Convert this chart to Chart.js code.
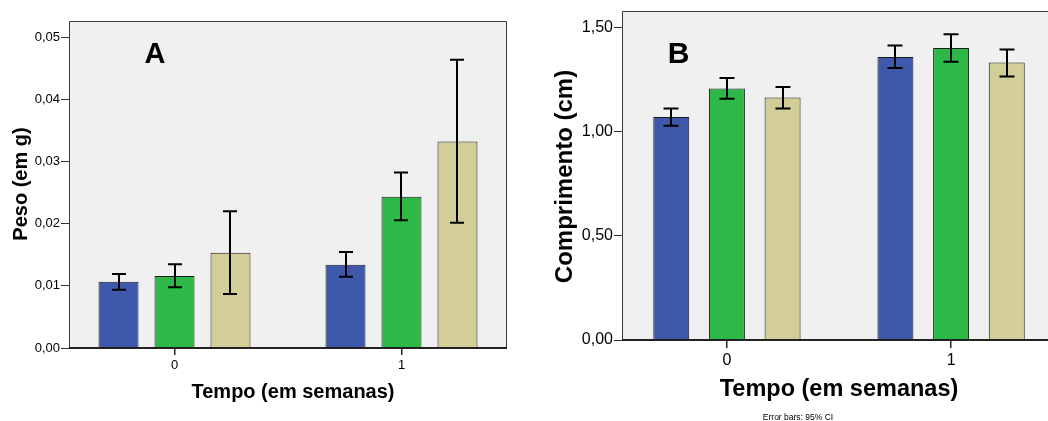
<!DOCTYPE html>
<html>
<head>
<meta charset="utf-8">
<script src="https://cdn.jsdelivr.net/npm/chart.js@4/dist/chart.umd.min.js"></script>
<style>
  html, body { margin: 0; padding: 0; background: #ffffff; width: 1048px; height: 421px; overflow: hidden; }
  canvas { position: absolute; top: 0; }
  #panelA { left: 0; }
  #panelB { left: 520px; }
</style>
</head>
<body>
<canvas id="panelA" width="520" height="421" style="width:520px;height:421px"></canvas>
<canvas id="panelB" width="550" height="421" style="width:550px;height:421px"></canvas>
<script>
// Time points (weeks)
const weeks = [0, 1];
const weekLabels = ['0', '1'];

// Series colours
const colors = ['#3E58AC', '#2EB848', '#D3CE97'];
const seriesNames = ['Grupo 1', 'Grupo 2', 'Grupo 3'];

// Panel A: weight (g), means and 95% CI bounds per group
const pesoMean = [
  [0.01066, 0.01340],
  [0.01158, 0.02433],
  [0.01533, 0.03323]
];
const pesoLow = [
  [0.00937, 0.01146],
  [0.00976, 0.02053],
  [0.00868, 0.02015]
];
const pesoHigh = [
  [0.01190, 0.01543],
  [0.01346, 0.02824],
  [0.02200, 0.04635]
];
const pesoTicks = [0, 0.01, 0.02, 0.03, 0.04, 0.05];

// Panel B: length (cm), means and 95% CI bounds per group
const compMean = [
  [1.070, 1.358],
  [1.207, 1.401],
  [1.164, 1.332]
];
const compLow = [
  [1.028, 1.305],
  [1.158, 1.335],
  [1.111, 1.265]
];
const compHigh = [
  [1.111, 1.414],
  [1.257, 1.468],
  [1.214, 1.394]
];
const compTicks = [0, 0.5, 1.0, 1.5];

const FONT = "Arial, 'Liberation Sans', sans-serif";

// Grey plot background, frame, error bars and text annotations
const panelPlugin = {
  id: 'panel',
  beforeDraw(chart, args, o) {
    const a = chart.chartArea, ctx = chart.ctx;
    ctx.save();
    ctx.fillStyle = '#F0F0F0';
    ctx.fillRect(a.left, a.top, a.right - a.left, a.bottom - a.top);
    ctx.restore();
  },
  afterDatasetsDraw(chart, args, o) {
    const a = chart.chartArea, ctx = chart.ctx, y = chart.scales.y;
    ctx.save();
    // frame
    ctx.strokeStyle = '#3A3A3A';
    ctx.lineWidth = 1;
    ctx.beginPath();
    ctx.moveTo(a.left + 0.5, a.bottom);
    ctx.lineTo(a.left + 0.5, a.top + 0.5);
    ctx.lineTo(a.right - 0.5, a.top + 0.5);
    ctx.lineTo(a.right - 0.5, a.bottom);
    ctx.stroke();
    ctx.strokeStyle = '#222222';
    ctx.lineWidth = 2;
    ctx.beginPath();
    ctx.moveTo(a.left, a.bottom);
    ctx.lineTo(a.right, a.bottom);
    ctx.stroke();

    // error bars
    ctx.strokeStyle = '#000000';
    ctx.lineWidth = 2;
    chart.data.datasets.forEach((ds, di) => {
      const meta = chart.getDatasetMeta(di);
      meta.data.forEach((bar, i) => {
        const x = Math.round(bar.x);
        const lo = y.getPixelForValue(ds.ciLow[i]);
        const hi = y.getPixelForValue(ds.ciHigh[i]);
        ctx.beginPath();
        ctx.moveTo(x, hi); ctx.lineTo(x, lo);
        ctx.moveTo(x - o.cap, hi); ctx.lineTo(x + o.cap, hi);
        ctx.moveTo(x - o.cap, lo); ctx.lineTo(x + o.cap, lo);
        ctx.stroke();
      });
    });

    // text
    ctx.fillStyle = '#000000';
    ctx.textBaseline = 'alphabetic';
    o.texts.forEach(t => {
      ctx.save();
      ctx.font = t.font;
      ctx.textAlign = t.align || 'center';
      ctx.translate(t.x, t.y);
      if (t.rot) ctx.rotate(t.rot);
      ctx.fillText(t.text, 0, 0);
      ctx.restore();
    });
    ctx.restore();
  }
};

function commaFmt(v) {
  return v.toFixed(2).replace('.', ',');
}

function makePanel(id, cfg) {
  const datasets = cfg.mean.map((vals, s) => ({
    label: seriesNames[s],
    data: weeks.map((w, i) => ({ x: w, y: vals[i] })),
    ciLow: cfg.low[s],
    ciHigh: cfg.high[s],
    backgroundColor: colors[s],
    borderColor: '#1A1A1A',
    borderWidth: 1,
    borderSkipped: 'bottom',
    categoryPercentage: cfg.catPct,
    barPercentage: cfg.barPct
  }));

  return new Chart(document.getElementById(id), {
    type: 'bar',
    data: { datasets },
    options: {
      responsive: false,
      devicePixelRatio: 1,
      animation: false,
      layout: { padding: cfg.padding },
      plugins: {
        legend: { display: false },
        tooltip: { enabled: false },
        panel: { cap: cfg.cap, texts: cfg.texts }
      },
      scales: {
        x: {
          type: 'linear',
          offset: false,
          min: cfg.xMin,
          max: cfg.xMax,
          afterBuildTicks: s => { s.ticks = weeks.map(v => ({ value: v })); },
          afterFit: s => { s.height = cfg.xHeight; },
          ticks: {
            callback: (v) => weekLabels[weeks.indexOf(v)],
            font: { family: FONT, size: cfg.xTickSize },
            color: '#000',
            padding: cfg.xTickPad,
            maxRotation: 0
          },
          grid: { offset: false, drawOnChartArea: false, drawTicks: true, tickLength: cfg.xTickLen, color: '#222', lineWidth: 1.5 },
          border: { display: false }
        },
        y: {
          min: 0,
          max: cfg.yMax,
          afterBuildTicks: s => { s.ticks = cfg.yTicks.map(v => ({ value: v })); },
          afterFit: s => { s.width = cfg.yWidth; },
          ticks: {
            callback: (v) => commaFmt(v),
            font: { family: FONT, size: cfg.yTickSize },
            color: '#000',
            padding: 1
          },
          grid: { drawOnChartArea: false, drawTicks: true, tickLength: cfg.yTickLen, color: '#333', lineWidth: 1 },
          border: { display: false }
        }
      }
    },
    plugins: [panelPlugin]
  });
}

makePanel('panelA', {
  mean: pesoMean, low: pesoLow, high: pesoHigh,
  yTicks: pesoTicks, yMax: 0.0526,
  xMin: -0.4648, xMax: 1.4648,
  catPct: 0.740, barPct: 0.714,
  padding: { left: 0, top: 21, right: 13, bottom: 0 },
  yWidth: 69, xHeight: 73,
  yTickSize: 13, yTickLen: 8,
  xTickSize: 13, xTickLen: 7, xTickPad: 3,
  cap: 7,
  texts: [
    { text: 'A', x: 155, y: 63, font: `bold 29px ${FONT}` },
    { text: 'Peso (em g)', x: 27, y: 184, rot: -Math.PI / 2, font: `bold 20px ${FONT}` },
    { text: 'Tempo (em semanas)', x: 293, y: 398, font: `bold 20px ${FONT}` }
  ]
});

makePanel('panelB', {
  mean: compMean, low: compLow, high: compHigh,
  yTicks: compTicks, yMax: 1.579,
  xMin: -0.468, xMax: 1.468,
  catPct: 0.745, barPct: 0.646,
  padding: { left: 0, top: 11, right: 14, bottom: 0 },
  yWidth: 102, xHeight: 81,
  yTickSize: 16, yTickLen: 8,
  xTickSize: 16, xTickLen: 8, xTickPad: 3,
  cap: 7.5,
  texts: [
    { text: 'B', x: 158.5, y: 63, font: `bold 30px ${FONT}` },
    { text: 'Comprimento (cm)', x: 52, y: 176.5, rot: -Math.PI / 2, font: `bold 24px ${FONT}` },
    { text: 'Tempo (em semanas)', x: 319, y: 396, font: `bold 23.5px ${FONT}` },
    { text: 'Error bars: 95% CI', x: 278, y: 420, font: `8.5px ${FONT}` }
  ]
});
</script>
</body>
</html>
